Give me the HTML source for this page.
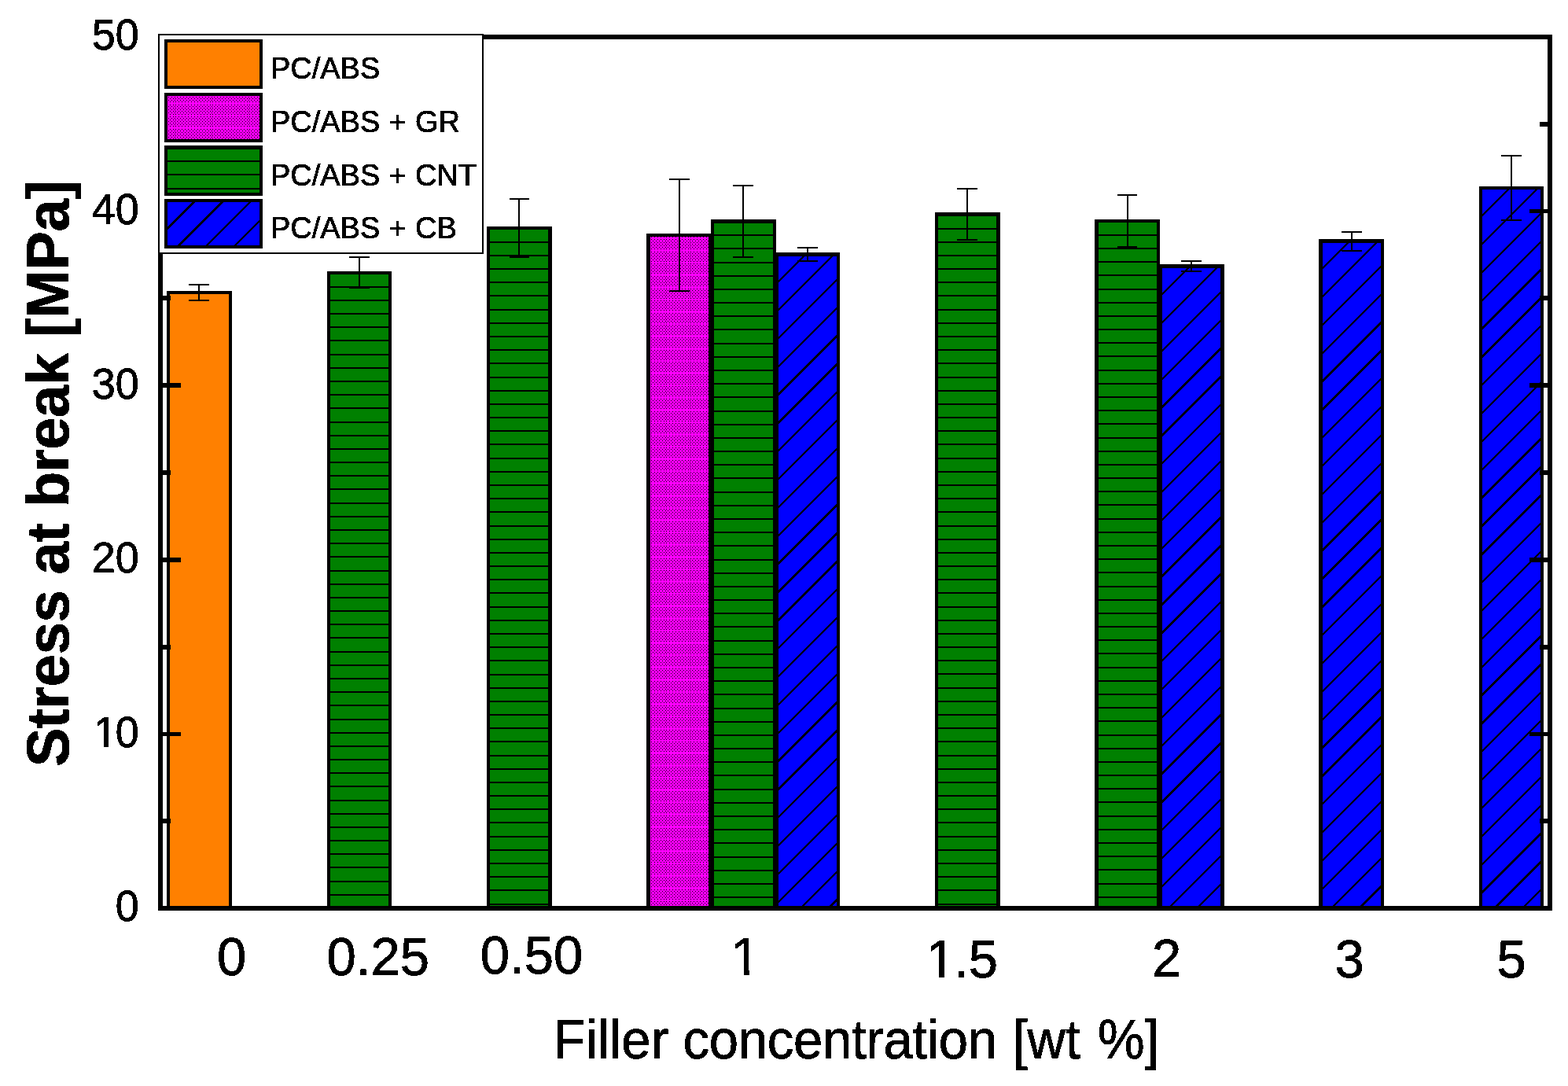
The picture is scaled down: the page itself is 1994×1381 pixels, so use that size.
<!DOCTYPE html>
<html lang="en"><head><meta charset="utf-8"><title>Stress at break vs filler concentration</title>
<style>html,body{margin:0;padding:0;background:#fff;}body{width:1994px;height:1381px;overflow:hidden;}svg{display:block;}text{font-family:"Liberation Sans",sans-serif;fill:#000;}</style>
</head><body>
<svg width="1994" height="1381" viewBox="0 0 1994 1381" shape-rendering="crispEdges">
<defs>
<filter id="bin" x="-5%" y="-5%" width="110%" height="110%" color-interpolation-filters="sRGB"><feComponentTransfer><feFuncA type="discrete" tableValues="0 1 1"/></feComponentTransfer></filter>
<clipPath id="k54"><path d="M-400 -200H600V60H-29.42V-4.83H-38.61V60H-44.19V-4.83H-400Z"/></clipPath>
<clipPath id="k67"><path d="M-400 -200H600V60H34.68V-5.81H23.17V60H16.45V-5.81H-400Z"/></clipPath>
</defs>
<rect x="0" y="0" width="1994" height="1381" fill="#fff"/>
<rect x="212" y="370" width="83" height="782" fill="#000"/>
<rect x="216" y="374" width="75" height="778" fill="#ff8000"/>
<rect x="416" y="345" width="82" height="807" fill="#000"/>
<rect x="420" y="349" width="74" height="803" fill="#008000"/>
<path d="M420 364h74v2h-74zM420 381h74v2h-74zM420 398h74v2h-74zM420 415h74v2h-74zM420 432h74v2h-74zM420 450h74v2h-74zM420 467h74v2h-74zM420 484h74v2h-74zM420 501h74v2h-74zM420 518h74v2h-74zM420 536h74v2h-74zM420 553h74v2h-74zM420 570h74v2h-74zM420 587h74v2h-74zM420 604h74v2h-74zM420 621h74v2h-74zM420 639h74v2h-74zM420 656h74v2h-74zM420 673h74v2h-74zM420 690h74v2h-74zM420 707h74v2h-74zM420 725h74v2h-74zM420 742h74v2h-74zM420 759h74v2h-74zM420 776h74v2h-74zM420 793h74v2h-74zM420 810h74v2h-74zM420 828h74v2h-74zM420 845h74v2h-74zM420 862h74v2h-74zM420 879h74v2h-74zM420 896h74v2h-74zM420 914h74v2h-74zM420 931h74v2h-74zM420 948h74v2h-74zM420 965h74v2h-74zM420 982h74v2h-74zM420 999h74v2h-74zM420 1017h74v2h-74zM420 1034h74v2h-74zM420 1051h74v2h-74zM420 1068h74v2h-74zM420 1085h74v2h-74zM420 1102h74v2h-74zM420 1120h74v2h-74zM420 1137h74v2h-74z" fill="#000"/>
<rect x="619" y="288" width="83" height="864" fill="#000"/>
<rect x="623" y="292" width="74" height="860" fill="#008000"/>
<path d="M623 307h74v2h-74zM623 324h74v2h-74zM623 341h74v2h-74zM623 358h74v2h-74zM623 375h74v2h-74zM623 393h74v2h-74zM623 410h74v2h-74zM623 427h74v2h-74zM623 444h74v2h-74zM623 461h74v2h-74zM623 479h74v2h-74zM623 496h74v2h-74zM623 513h74v2h-74zM623 530h74v2h-74zM623 547h74v2h-74zM623 564h74v2h-74zM623 582h74v2h-74zM623 599h74v2h-74zM623 616h74v2h-74zM623 633h74v2h-74zM623 650h74v2h-74zM623 668h74v2h-74zM623 685h74v2h-74zM623 702h74v2h-74zM623 719h74v2h-74zM623 736h74v2h-74zM623 753h74v2h-74zM623 771h74v2h-74zM623 788h74v2h-74zM623 805h74v2h-74zM623 822h74v2h-74zM623 839h74v2h-74zM623 857h74v2h-74zM623 874h74v2h-74zM623 891h74v2h-74zM623 908h74v2h-74zM623 925h74v2h-74zM623 942h74v2h-74zM623 960h74v2h-74zM623 977h74v2h-74zM623 994h74v2h-74zM623 1011h74v2h-74zM623 1028h74v2h-74zM623 1045h74v2h-74zM623 1063h74v2h-74zM623 1080h74v2h-74zM623 1097h74v2h-74zM623 1114h74v2h-74zM623 1131h74v2h-74zM623 1149h74v2h-74z" fill="#000"/>
<rect x="822" y="297" width="83" height="855" fill="#000"/>
<rect x="827" y="301" width="74" height="851" fill="#ff00ff"/>
<defs><path id="mra" d="M828 0h1v1h-1zM832 0h1v1h-1zM836 0h1v1h-1zM840 0h1v1h-1zM844 0h1v1h-1zM847 0h1v1h-1zM851 0h1v1h-1zM855 0h1v1h-1zM859 0h1v1h-1zM863 0h1v1h-1zM867 0h1v1h-1zM871 0h1v1h-1zM875 0h1v1h-1zM878 0h1v1h-1zM882 0h1v1h-1zM886 0h1v1h-1zM890 0h1v1h-1zM894 0h1v1h-1zM898 0h1v1h-1z"/><path id="mrb" d="M830 0h1v1h-1zM834 0h1v1h-1zM838 0h1v1h-1zM842 0h1v1h-1zM846 0h1v1h-1zM849 0h1v1h-1zM853 0h1v1h-1zM857 0h1v1h-1zM861 0h1v1h-1zM865 0h1v1h-1zM869 0h1v1h-1zM873 0h1v1h-1zM877 0h1v1h-1zM880 0h1v1h-1zM884 0h1v1h-1zM888 0h1v1h-1zM892 0h1v1h-1zM896 0h1v1h-1zM900 0h1v1h-1z"/></defs>
<g fill="#000"><use href="#mra" y="301"/><use href="#mra" y="304"/><use href="#mrb" y="306"/><use href="#mra" y="308"/><use href="#mrb" y="310"/><use href="#mra" y="312"/><use href="#mrb" y="314"/><use href="#mra" y="316"/><use href="#mra" y="320"/><use href="#mrb" y="322"/><use href="#mra" y="324"/><use href="#mrb" y="326"/><use href="#mra" y="328"/><use href="#mrb" y="330"/><use href="#mra" y="332"/><use href="#mra" y="335"/><use href="#mrb" y="337"/><use href="#mra" y="339"/><use href="#mrb" y="341"/><use href="#mra" y="343"/><use href="#mrb" y="345"/><use href="#mra" y="347"/><use href="#mra" y="351"/><use href="#mrb" y="353"/><use href="#mra" y="355"/><use href="#mrb" y="357"/><use href="#mra" y="359"/><use href="#mrb" y="361"/><use href="#mra" y="363"/><use href="#mra" y="367"/><use href="#mrb" y="369"/><use href="#mra" y="371"/><use href="#mrb" y="373"/><use href="#mra" y="375"/><use href="#mrb" y="377"/><use href="#mra" y="379"/><use href="#mra" y="382"/><use href="#mrb" y="384"/><use href="#mra" y="386"/><use href="#mrb" y="388"/><use href="#mra" y="390"/><use href="#mrb" y="392"/><use href="#mra" y="394"/><use href="#mra" y="398"/><use href="#mrb" y="400"/><use href="#mra" y="402"/><use href="#mrb" y="404"/><use href="#mra" y="406"/><use href="#mrb" y="408"/><use href="#mra" y="410"/><use href="#mra" y="413"/><use href="#mrb" y="415"/><use href="#mra" y="417"/><use href="#mrb" y="419"/><use href="#mra" y="421"/><use href="#mrb" y="423"/><use href="#mra" y="425"/><use href="#mra" y="429"/><use href="#mrb" y="431"/><use href="#mra" y="433"/><use href="#mrb" y="435"/><use href="#mra" y="437"/><use href="#mrb" y="439"/><use href="#mra" y="441"/><use href="#mra" y="445"/><use href="#mrb" y="447"/><use href="#mra" y="449"/><use href="#mrb" y="451"/><use href="#mra" y="453"/><use href="#mrb" y="455"/><use href="#mra" y="457"/><use href="#mra" y="460"/><use href="#mrb" y="462"/><use href="#mra" y="464"/><use href="#mrb" y="466"/><use href="#mra" y="468"/><use href="#mrb" y="470"/><use href="#mra" y="472"/><use href="#mra" y="476"/><use href="#mrb" y="478"/><use href="#mra" y="480"/><use href="#mrb" y="482"/><use href="#mra" y="484"/><use href="#mrb" y="486"/><use href="#mra" y="488"/><use href="#mra" y="491"/><use href="#mrb" y="493"/><use href="#mra" y="495"/><use href="#mrb" y="497"/><use href="#mra" y="499"/><use href="#mrb" y="501"/><use href="#mra" y="503"/><use href="#mra" y="507"/><use href="#mrb" y="509"/><use href="#mra" y="511"/><use href="#mrb" y="513"/><use href="#mra" y="515"/><use href="#mrb" y="517"/><use href="#mra" y="519"/><use href="#mra" y="523"/><use href="#mrb" y="525"/><use href="#mra" y="527"/><use href="#mrb" y="529"/><use href="#mra" y="531"/><use href="#mrb" y="533"/><use href="#mra" y="535"/><use href="#mra" y="538"/><use href="#mrb" y="540"/><use href="#mra" y="542"/><use href="#mrb" y="544"/><use href="#mra" y="546"/><use href="#mrb" y="548"/><use href="#mra" y="550"/><use href="#mra" y="554"/><use href="#mrb" y="556"/><use href="#mra" y="558"/><use href="#mrb" y="560"/><use href="#mra" y="562"/><use href="#mrb" y="564"/><use href="#mra" y="566"/><use href="#mra" y="569"/><use href="#mrb" y="571"/><use href="#mra" y="573"/><use href="#mrb" y="575"/><use href="#mra" y="577"/><use href="#mrb" y="579"/><use href="#mra" y="581"/><use href="#mra" y="585"/><use href="#mrb" y="587"/><use href="#mra" y="589"/><use href="#mrb" y="591"/><use href="#mra" y="593"/><use href="#mrb" y="595"/><use href="#mra" y="597"/><use href="#mra" y="600"/><use href="#mrb" y="602"/><use href="#mra" y="604"/><use href="#mrb" y="606"/><use href="#mra" y="608"/><use href="#mrb" y="610"/><use href="#mra" y="612"/><use href="#mra" y="616"/><use href="#mrb" y="618"/><use href="#mra" y="620"/><use href="#mrb" y="622"/><use href="#mra" y="624"/><use href="#mrb" y="626"/><use href="#mra" y="628"/><use href="#mra" y="632"/><use href="#mrb" y="634"/><use href="#mra" y="636"/><use href="#mrb" y="638"/><use href="#mra" y="640"/><use href="#mrb" y="642"/><use href="#mra" y="644"/><use href="#mra" y="647"/><use href="#mrb" y="649"/><use href="#mra" y="651"/><use href="#mrb" y="653"/><use href="#mra" y="655"/><use href="#mrb" y="657"/><use href="#mra" y="659"/><use href="#mra" y="663"/><use href="#mrb" y="665"/><use href="#mra" y="667"/><use href="#mrb" y="669"/><use href="#mra" y="671"/><use href="#mrb" y="673"/><use href="#mra" y="675"/><use href="#mra" y="678"/><use href="#mrb" y="680"/><use href="#mra" y="682"/><use href="#mrb" y="684"/><use href="#mra" y="686"/><use href="#mrb" y="688"/><use href="#mra" y="690"/><use href="#mra" y="694"/><use href="#mrb" y="696"/><use href="#mra" y="698"/><use href="#mrb" y="700"/><use href="#mra" y="702"/><use href="#mrb" y="704"/><use href="#mra" y="706"/><use href="#mra" y="710"/><use href="#mrb" y="712"/><use href="#mra" y="714"/><use href="#mrb" y="716"/><use href="#mra" y="718"/><use href="#mrb" y="720"/><use href="#mra" y="722"/><use href="#mra" y="725"/><use href="#mrb" y="727"/><use href="#mra" y="729"/><use href="#mrb" y="731"/><use href="#mra" y="733"/><use href="#mrb" y="735"/><use href="#mra" y="737"/><use href="#mra" y="741"/><use href="#mrb" y="743"/><use href="#mra" y="745"/><use href="#mrb" y="747"/><use href="#mra" y="749"/><use href="#mrb" y="751"/><use href="#mra" y="753"/><use href="#mra" y="756"/><use href="#mrb" y="758"/><use href="#mra" y="760"/><use href="#mrb" y="762"/><use href="#mra" y="764"/><use href="#mrb" y="766"/><use href="#mra" y="768"/><use href="#mra" y="772"/><use href="#mrb" y="774"/><use href="#mra" y="776"/><use href="#mrb" y="778"/><use href="#mra" y="780"/><use href="#mrb" y="782"/><use href="#mra" y="784"/><use href="#mra" y="788"/><use href="#mrb" y="790"/><use href="#mra" y="792"/><use href="#mrb" y="794"/><use href="#mra" y="796"/><use href="#mrb" y="798"/><use href="#mra" y="800"/><use href="#mra" y="803"/><use href="#mrb" y="805"/><use href="#mra" y="807"/><use href="#mrb" y="809"/><use href="#mra" y="811"/><use href="#mrb" y="813"/><use href="#mra" y="815"/><use href="#mra" y="819"/><use href="#mrb" y="821"/><use href="#mra" y="823"/><use href="#mrb" y="825"/><use href="#mra" y="827"/><use href="#mrb" y="829"/><use href="#mra" y="831"/><use href="#mra" y="834"/><use href="#mrb" y="836"/><use href="#mra" y="838"/><use href="#mrb" y="840"/><use href="#mra" y="842"/><use href="#mrb" y="844"/><use href="#mra" y="846"/><use href="#mra" y="850"/><use href="#mrb" y="852"/><use href="#mra" y="854"/><use href="#mrb" y="856"/><use href="#mra" y="858"/><use href="#mrb" y="860"/><use href="#mra" y="862"/><use href="#mra" y="866"/><use href="#mrb" y="868"/><use href="#mra" y="870"/><use href="#mrb" y="872"/><use href="#mra" y="874"/><use href="#mrb" y="876"/><use href="#mra" y="878"/><use href="#mra" y="881"/><use href="#mrb" y="883"/><use href="#mra" y="885"/><use href="#mrb" y="887"/><use href="#mra" y="889"/><use href="#mrb" y="891"/><use href="#mra" y="893"/><use href="#mra" y="897"/><use href="#mrb" y="899"/><use href="#mra" y="901"/><use href="#mrb" y="903"/><use href="#mra" y="905"/><use href="#mrb" y="907"/><use href="#mra" y="909"/><use href="#mra" y="912"/><use href="#mrb" y="914"/><use href="#mra" y="916"/><use href="#mrb" y="918"/><use href="#mra" y="920"/><use href="#mrb" y="922"/><use href="#mra" y="924"/><use href="#mra" y="928"/><use href="#mrb" y="930"/><use href="#mra" y="932"/><use href="#mrb" y="934"/><use href="#mra" y="936"/><use href="#mrb" y="938"/><use href="#mra" y="940"/><use href="#mra" y="943"/><use href="#mrb" y="945"/><use href="#mra" y="947"/><use href="#mrb" y="949"/><use href="#mra" y="951"/><use href="#mrb" y="953"/><use href="#mra" y="955"/><use href="#mra" y="959"/><use href="#mrb" y="961"/><use href="#mra" y="963"/><use href="#mrb" y="965"/><use href="#mra" y="967"/><use href="#mrb" y="969"/><use href="#mra" y="971"/><use href="#mra" y="975"/><use href="#mrb" y="977"/><use href="#mra" y="979"/><use href="#mrb" y="981"/><use href="#mra" y="983"/><use href="#mrb" y="985"/><use href="#mra" y="987"/><use href="#mra" y="990"/><use href="#mrb" y="992"/><use href="#mra" y="994"/><use href="#mrb" y="996"/><use href="#mra" y="998"/><use href="#mrb" y="1000"/><use href="#mra" y="1002"/><use href="#mra" y="1006"/><use href="#mrb" y="1008"/><use href="#mra" y="1010"/><use href="#mrb" y="1012"/><use href="#mra" y="1014"/><use href="#mrb" y="1016"/><use href="#mra" y="1018"/><use href="#mra" y="1021"/><use href="#mrb" y="1023"/><use href="#mra" y="1025"/><use href="#mrb" y="1027"/><use href="#mra" y="1029"/><use href="#mrb" y="1031"/><use href="#mra" y="1033"/><use href="#mra" y="1037"/><use href="#mrb" y="1039"/><use href="#mra" y="1041"/><use href="#mrb" y="1043"/><use href="#mra" y="1045"/><use href="#mrb" y="1047"/><use href="#mra" y="1049"/><use href="#mra" y="1053"/><use href="#mrb" y="1055"/><use href="#mra" y="1057"/><use href="#mrb" y="1059"/><use href="#mra" y="1061"/><use href="#mrb" y="1063"/><use href="#mra" y="1065"/><use href="#mra" y="1068"/><use href="#mrb" y="1070"/><use href="#mra" y="1072"/><use href="#mrb" y="1074"/><use href="#mra" y="1076"/><use href="#mrb" y="1078"/><use href="#mra" y="1080"/><use href="#mra" y="1084"/><use href="#mrb" y="1086"/><use href="#mra" y="1088"/><use href="#mrb" y="1090"/><use href="#mra" y="1092"/><use href="#mrb" y="1094"/><use href="#mra" y="1096"/><use href="#mra" y="1099"/><use href="#mrb" y="1101"/><use href="#mra" y="1103"/><use href="#mrb" y="1105"/><use href="#mra" y="1107"/><use href="#mrb" y="1109"/><use href="#mra" y="1111"/><use href="#mra" y="1115"/><use href="#mrb" y="1117"/><use href="#mra" y="1119"/><use href="#mrb" y="1121"/><use href="#mra" y="1123"/><use href="#mrb" y="1125"/><use href="#mra" y="1127"/><use href="#mra" y="1131"/><use href="#mrb" y="1133"/><use href="#mra" y="1135"/><use href="#mrb" y="1137"/><use href="#mra" y="1139"/><use href="#mrb" y="1141"/><use href="#mra" y="1143"/><use href="#mra" y="1146"/><use href="#mrb" y="1148"/><use href="#mra" y="1150"/></g>
<rect x="904" y="279" width="83" height="873" fill="#000"/>
<rect x="908" y="284" width="75" height="868" fill="#008000"/>
<path d="M908 298h75v2h-75zM908 315h75v2h-75zM908 333h75v2h-75zM908 350h75v2h-75zM908 367h75v2h-75zM908 384h75v2h-75zM908 401h75v2h-75zM908 418h75v2h-75zM908 436h75v2h-75zM908 453h75v2h-75zM908 470h75v2h-75zM908 487h75v2h-75zM908 504h75v2h-75zM908 522h75v2h-75zM908 539h75v2h-75zM908 556h75v2h-75zM908 573h75v2h-75zM908 590h75v2h-75zM908 607h75v2h-75zM908 625h75v2h-75zM908 642h75v2h-75zM908 659h75v2h-75zM908 676h75v2h-75zM908 693h75v2h-75zM908 711h75v2h-75zM908 728h75v2h-75zM908 745h75v2h-75zM908 762h75v2h-75zM908 779h75v2h-75zM908 796h75v2h-75zM908 814h75v2h-75zM908 831h75v2h-75zM908 848h75v2h-75zM908 865h75v2h-75zM908 882h75v2h-75zM908 900h75v2h-75zM908 917h75v2h-75zM908 934h75v2h-75zM908 951h75v2h-75zM908 968h75v2h-75zM908 985h75v2h-75zM908 1003h75v2h-75zM908 1020h75v2h-75zM908 1037h75v2h-75zM908 1054h75v2h-75zM908 1071h75v2h-75zM908 1089h75v2h-75zM908 1106h75v2h-75zM908 1123h75v2h-75zM908 1140h75v2h-75z" fill="#000"/>
<rect x="986" y="321" width="82" height="831" fill="#000"/>
<clipPath id="c1"><rect x="990" y="326" width="74" height="826"/></clipPath>
<rect x="990" y="326" width="74" height="826" fill="#0000ff"/>
<path d="M987.00 289.45L1067.00 209.45M987.00 325.30L1067.00 245.30M987.00 361.15L1067.00 281.15M987.00 397.00L1067.00 317.00M987.00 432.85L1067.00 352.85M987.00 468.70L1067.00 388.70M987.00 504.55L1067.00 424.55M987.00 540.40L1067.00 460.40M987.00 576.25L1067.00 496.25M987.00 612.10L1067.00 532.10M987.00 647.95L1067.00 567.95M987.00 683.80L1067.00 603.80M987.00 719.65L1067.00 639.65M987.00 755.50L1067.00 675.50M987.00 791.35L1067.00 711.35M987.00 827.20L1067.00 747.20M987.00 863.05L1067.00 783.05M987.00 898.90L1067.00 818.90M987.00 934.75L1067.00 854.75M987.00 970.60L1067.00 890.60M987.00 1006.45L1067.00 926.45M987.00 1042.30L1067.00 962.30M987.00 1078.15L1067.00 998.15M987.00 1114.00L1067.00 1034.00M987.00 1149.85L1067.00 1069.85M987.00 1185.70L1067.00 1105.70M987.00 1221.55L1067.00 1141.55M987.00 1257.40L1067.00 1177.40" stroke="#000" stroke-width="2.4" fill="none" clip-path="url(#c1)"/>
<rect x="1189" y="270" width="83" height="882" fill="#000"/>
<rect x="1193" y="275" width="74" height="877" fill="#008000"/>
<path d="M1193 290h74v2h-74zM1193 307h74v2h-74zM1193 324h74v2h-74zM1193 341h74v2h-74zM1193 358h74v2h-74zM1193 375h74v2h-74zM1193 393h74v2h-74zM1193 410h74v2h-74zM1193 427h74v2h-74zM1193 444h74v2h-74zM1193 461h74v2h-74zM1193 479h74v2h-74zM1193 496h74v2h-74zM1193 513h74v2h-74zM1193 530h74v2h-74zM1193 547h74v2h-74zM1193 564h74v2h-74zM1193 582h74v2h-74zM1193 599h74v2h-74zM1193 616h74v2h-74zM1193 633h74v2h-74zM1193 650h74v2h-74zM1193 668h74v2h-74zM1193 685h74v2h-74zM1193 702h74v2h-74zM1193 719h74v2h-74zM1193 736h74v2h-74zM1193 753h74v2h-74zM1193 771h74v2h-74zM1193 788h74v2h-74zM1193 805h74v2h-74zM1193 822h74v2h-74zM1193 839h74v2h-74zM1193 856h74v2h-74zM1193 874h74v2h-74zM1193 891h74v2h-74zM1193 908h74v2h-74zM1193 925h74v2h-74zM1193 942h74v2h-74zM1193 960h74v2h-74zM1193 977h74v2h-74zM1193 994h74v2h-74zM1193 1011h74v2h-74zM1193 1028h74v2h-74zM1193 1045h74v2h-74zM1193 1063h74v2h-74zM1193 1080h74v2h-74zM1193 1097h74v2h-74zM1193 1114h74v2h-74zM1193 1131h74v2h-74zM1193 1149h74v2h-74z" fill="#000"/>
<rect x="1392" y="279" width="83" height="873" fill="#000"/>
<rect x="1397" y="283" width="74" height="869" fill="#008000"/>
<path d="M1397 298h74v2h-74zM1397 315h74v2h-74zM1397 332h74v2h-74zM1397 349h74v2h-74zM1397 367h74v2h-74zM1397 384h74v2h-74zM1397 401h74v2h-74zM1397 418h74v2h-74zM1397 435h74v2h-74zM1397 452h74v2h-74zM1397 470h74v2h-74zM1397 487h74v2h-74zM1397 504h74v2h-74zM1397 521h74v2h-74zM1397 538h74v2h-74zM1397 556h74v2h-74zM1397 573h74v2h-74zM1397 590h74v2h-74zM1397 607h74v2h-74zM1397 624h74v2h-74zM1397 641h74v2h-74zM1397 659h74v2h-74zM1397 676h74v2h-74zM1397 693h74v2h-74zM1397 710h74v2h-74zM1397 727h74v2h-74zM1397 745h74v2h-74zM1397 762h74v2h-74zM1397 779h74v2h-74zM1397 796h74v2h-74zM1397 813h74v2h-74zM1397 830h74v2h-74zM1397 848h74v2h-74zM1397 865h74v2h-74zM1397 882h74v2h-74zM1397 899h74v2h-74zM1397 916h74v2h-74zM1397 934h74v2h-74zM1397 951h74v2h-74zM1397 968h74v2h-74zM1397 985h74v2h-74zM1397 1002h74v2h-74zM1397 1019h74v2h-74zM1397 1037h74v2h-74zM1397 1054h74v2h-74zM1397 1071h74v2h-74zM1397 1088h74v2h-74zM1397 1105h74v2h-74zM1397 1123h74v2h-74zM1397 1140h74v2h-74z" fill="#000"/>
<rect x="1474" y="336" width="83" height="816" fill="#000"/>
<clipPath id="c2"><rect x="1478" y="341" width="74" height="811"/></clipPath>
<rect x="1478" y="341" width="74" height="811" fill="#0000ff"/>
<path d="M1475.00 305.45L1555.00 225.45M1475.00 341.30L1555.00 261.30M1475.00 377.15L1555.00 297.15M1475.00 413.00L1555.00 333.00M1475.00 448.85L1555.00 368.85M1475.00 484.70L1555.00 404.70M1475.00 520.55L1555.00 440.55M1475.00 556.40L1555.00 476.40M1475.00 592.25L1555.00 512.25M1475.00 628.10L1555.00 548.10M1475.00 663.95L1555.00 583.95M1475.00 699.80L1555.00 619.80M1475.00 735.65L1555.00 655.65M1475.00 771.50L1555.00 691.50M1475.00 807.35L1555.00 727.35M1475.00 843.20L1555.00 763.20M1475.00 879.05L1555.00 799.05M1475.00 914.90L1555.00 834.90M1475.00 950.75L1555.00 870.75M1475.00 986.60L1555.00 906.60M1475.00 1022.45L1555.00 942.45M1475.00 1058.30L1555.00 978.30M1475.00 1094.15L1555.00 1014.15M1475.00 1130.00L1555.00 1050.00M1475.00 1165.85L1555.00 1085.85M1475.00 1201.70L1555.00 1121.70M1475.00 1237.55L1555.00 1157.55" stroke="#000" stroke-width="2.4" fill="none" clip-path="url(#c2)"/>
<rect x="1677" y="304" width="83" height="848" fill="#000"/>
<clipPath id="c3"><rect x="1682" y="309" width="74" height="843"/></clipPath>
<rect x="1682" y="309" width="74" height="843" fill="#0000ff"/>
<path d="M1679.00 272.45L1759.00 192.45M1679.00 308.30L1759.00 228.30M1679.00 344.15L1759.00 264.15M1679.00 380.00L1759.00 300.00M1679.00 415.85L1759.00 335.85M1679.00 451.70L1759.00 371.70M1679.00 487.55L1759.00 407.55M1679.00 523.40L1759.00 443.40M1679.00 559.25L1759.00 479.25M1679.00 595.10L1759.00 515.10M1679.00 630.95L1759.00 550.95M1679.00 666.80L1759.00 586.80M1679.00 702.65L1759.00 622.65M1679.00 738.50L1759.00 658.50M1679.00 774.35L1759.00 694.35M1679.00 810.20L1759.00 730.20M1679.00 846.05L1759.00 766.05M1679.00 881.90L1759.00 801.90M1679.00 917.75L1759.00 837.75M1679.00 953.60L1759.00 873.60M1679.00 989.45L1759.00 909.45M1679.00 1025.30L1759.00 945.30M1679.00 1061.15L1759.00 981.15M1679.00 1097.00L1759.00 1017.00M1679.00 1132.85L1759.00 1052.85M1679.00 1168.70L1759.00 1088.70M1679.00 1204.55L1759.00 1124.55M1679.00 1240.40L1759.00 1160.40" stroke="#000" stroke-width="2.4" fill="none" clip-path="url(#c3)"/>
<rect x="1881" y="237" width="82" height="915" fill="#000"/>
<clipPath id="c4"><rect x="1885" y="241" width="74" height="911"/></clipPath>
<rect x="1885" y="241" width="74" height="911" fill="#0000ff"/>
<path d="M1882.00 205.45L1962.00 125.45M1882.00 241.30L1962.00 161.30M1882.00 277.15L1962.00 197.15M1882.00 313.00L1962.00 233.00M1882.00 348.85L1962.00 268.85M1882.00 384.70L1962.00 304.70M1882.00 420.55L1962.00 340.55M1882.00 456.40L1962.00 376.40M1882.00 492.25L1962.00 412.25M1882.00 528.10L1962.00 448.10M1882.00 563.95L1962.00 483.95M1882.00 599.80L1962.00 519.80M1882.00 635.65L1962.00 555.65M1882.00 671.50L1962.00 591.50M1882.00 707.35L1962.00 627.35M1882.00 743.20L1962.00 663.20M1882.00 779.05L1962.00 699.05M1882.00 814.90L1962.00 734.90M1882.00 850.75L1962.00 770.75M1882.00 886.60L1962.00 806.60M1882.00 922.45L1962.00 842.45M1882.00 958.30L1962.00 878.30M1882.00 994.15L1962.00 914.15M1882.00 1030.00L1962.00 950.00M1882.00 1065.85L1962.00 985.85M1882.00 1101.70L1962.00 1021.70M1882.00 1137.55L1962.00 1057.55M1882.00 1173.40L1962.00 1093.40M1882.00 1209.25L1962.00 1129.25M1882.00 1245.10L1962.00 1165.10" stroke="#000" stroke-width="2.4" fill="none" clip-path="url(#c4)"/>
<path d="M240 361h26v2h-26zM240 381h26v2h-26zM252 361h2v22h-2zM444 326h26v2h-26zM444 365h26v2h-26zM456 326h2v41h-2zM648 252h25v2h-25zM648 326h25v2h-25zM659 252h2v76h-2zM851 227h26v2h-26zM851 369h26v2h-26zM863 227h2v144h-2zM932 235h26v2h-26zM932 326h26v2h-26zM944 235h2v93h-2zM1014 314h26v2h-26zM1014 331h26v2h-26zM1026 314h2v19h-2zM1217 239h26v2h-26zM1217 304h26v2h-26zM1229 239h2v67h-2zM1421 247h25v2h-25zM1421 313h25v2h-25zM1433 247h2v68h-2zM1502 331h26v2h-26zM1502 344h26v2h-26zM1514 331h2v15h-2zM1706 294h26v2h-26zM1706 318h26v2h-26zM1718 294h2v26h-2zM1909 197h26v2h-26zM1909 279h26v2h-26zM1921 197h2v84h-2z" fill="#000"/>
<rect x="204" y="47" width="1767" height="1108" fill="none" stroke="#000" stroke-width="6"/>
<path d="M207 1041h10v6h-10zM1958 1041h10v6h-10zM207 931h23v5h-23zM1945 931h23v5h-23zM207 820h10v6h-10zM1958 820h10v6h-10zM207 709h23v6h-23zM1945 709h23v6h-23zM207 598h10v6h-10zM1958 598h10v6h-10zM207 487h23v6h-23zM1945 487h23v6h-23zM207 376h10v6h-10zM1958 376h10v6h-10zM207 266h23v5h-23zM1945 266h23v5h-23zM207 155h10v6h-10zM1958 155h10v6h-10z" fill="#000"/>
<rect x="202" y="44" width="412" height="278" fill="#fff" stroke="#000" stroke-width="2"/>
<rect x="209" y="50" width="125" height="63" fill="#000"/>
<rect x="213" y="54" width="117" height="55" fill="#ff8000"/>
<rect x="209" y="118" width="125" height="63" fill="#000"/>
<rect x="213" y="122" width="117" height="55" fill="#ff00ff"/>
<defs><path id="lra" d="M214 0h1v1h-1zM218 0h1v1h-1zM222 0h1v1h-1zM225 0h1v1h-1zM229 0h1v1h-1zM233 0h1v1h-1zM237 0h1v1h-1zM241 0h1v1h-1zM245 0h1v1h-1zM249 0h1v1h-1zM253 0h1v1h-1zM257 0h1v1h-1zM261 0h1v1h-1zM265 0h1v1h-1zM269 0h1v1h-1zM272 0h1v1h-1zM276 0h1v1h-1zM280 0h1v1h-1zM284 0h1v1h-1zM288 0h1v1h-1zM292 0h1v1h-1zM296 0h1v1h-1zM300 0h1v1h-1zM304 0h1v1h-1zM308 0h1v1h-1zM312 0h1v1h-1zM316 0h1v1h-1zM319 0h1v1h-1zM323 0h1v1h-1zM327 0h1v1h-1z"/><path id="lrb" d="M216 0h1v1h-1zM220 0h1v1h-1zM223 0h1v1h-1zM227 0h1v1h-1zM231 0h1v1h-1zM235 0h1v1h-1zM239 0h1v1h-1zM243 0h1v1h-1zM247 0h1v1h-1zM251 0h1v1h-1zM255 0h1v1h-1zM259 0h1v1h-1zM263 0h1v1h-1zM267 0h1v1h-1zM270 0h1v1h-1zM274 0h1v1h-1zM278 0h1v1h-1zM282 0h1v1h-1zM286 0h1v1h-1zM290 0h1v1h-1zM294 0h1v1h-1zM298 0h1v1h-1zM302 0h1v1h-1zM306 0h1v1h-1zM310 0h1v1h-1zM314 0h1v1h-1zM317 0h1v1h-1zM321 0h1v1h-1zM325 0h1v1h-1zM329 0h1v1h-1z"/></defs>
<g fill="#000"><use href="#lra" y="123"/><use href="#lrb" y="125"/><use href="#lra" y="127"/><use href="#lrb" y="129"/><use href="#lrb" y="133"/><use href="#lra" y="135"/><use href="#lrb" y="137"/><use href="#lra" y="139"/><use href="#lrb" y="141"/><use href="#lra" y="143"/><use href="#lrb" y="145"/><use href="#lrb" y="148"/><use href="#lra" y="150"/><use href="#lrb" y="152"/><use href="#lra" y="154"/><use href="#lrb" y="156"/><use href="#lra" y="158"/><use href="#lrb" y="160"/><use href="#lrb" y="164"/><use href="#lra" y="166"/><use href="#lrb" y="168"/><use href="#lra" y="170"/><use href="#lrb" y="172"/><use href="#lra" y="174"/><use href="#lrb" y="176"/></g>
<rect x="209" y="185" width="125" height="64" fill="#000"/>
<rect x="213" y="190" width="117" height="55" fill="#008000"/>
<path d="M213 204h117v2h-117zM213 221h117v2h-117zM213 239h117v2h-117z" fill="#000"/>
<rect x="209" y="253" width="125" height="63" fill="#000"/>
<clipPath id="cl"><rect x="213" y="257" width="117" height="55"/></clipPath>
<rect x="213" y="257" width="117" height="55" fill="#0000ff"/>
<path d="M210.00 257.20L333.00 134.20M210.00 293.20L333.00 170.20M210.00 329.30L333.00 206.30" stroke="#000" stroke-width="2.8" fill="none" clip-path="url(#cl)"/>
<path d="M210.00 365.30L333.00 242.30M210.00 401.30L333.00 278.30M210.00 437.00L333.00 314.00" stroke="#000" stroke-width="2.1" fill="none" clip-path="url(#cl)"/>
<g shape-rendering="auto" filter="url(#bin)" stroke="#000" stroke-width="0.5" stroke-linejoin="round">
<text x="343.9" y="99.6" font-size="38" word-spacing="0.7">PC/ABS</text>
<text x="343.9" y="167.8" font-size="38" word-spacing="0.7">PC/ABS + GR</text>
<text x="343.9" y="235.8" font-size="38" word-spacing="0.7">PC/ABS + CNT</text>
<text x="343.9" y="302.8" font-size="38" word-spacing="0.7">PC/ABS + CB</text>
<text transform="translate(176.7 1171.3) scale(1 1.02)" font-size="54" text-anchor="end">0</text>
<text transform="translate(176.7 949.7) scale(1 1.02)" font-size="54" clip-path="url(#k54)"><tspan x="-57.36">1</tspan><tspan x="-30.03">0</tspan></text>
<text transform="translate(176.7 728.1) scale(1 1.02)" font-size="54" text-anchor="end">20</text>
<text transform="translate(176.7 506.5) scale(1 1.02)" font-size="54" text-anchor="end">30</text>
<text transform="translate(176.7 284.9) scale(1 1.02)" font-size="54" text-anchor="end">40</text>
<text transform="translate(176.7 63.3) scale(1 1.02)" font-size="54" text-anchor="end">50</text>
<text transform="translate(276.0 1239.9) scale(1 1.02)" font-size="67">0</text>
<text transform="translate(415.6 1240.2) scale(1 1.02)" font-size="67">0.25</text>
<text transform="translate(610.8 1237.8) scale(1 1.02)" font-size="67">0.50</text>
<text transform="translate(929.3 1240.2) scale(1 1.02)" font-size="67" clip-path="url(#k67)"><tspan x="0">1</tspan><tspan x="34.96"></tspan></text>
<text transform="translate(1178.1 1242.6) scale(1 1.02)" font-size="67" clip-path="url(#k67)"><tspan x="0">1</tspan><tspan x="34.96">.5</tspan></text>
<text transform="translate(1465.1 1242.2) scale(1 1.02)" font-size="67">2</text>
<text transform="translate(1697.6 1242.6) scale(1 1.02)" font-size="67">3</text>
<text transform="translate(1903.6 1242.6) scale(1 1.02)" font-size="67">5</text>
<text transform="translate(0 1346) scale(1 1.04)" font-size="67"><tspan x="703.6" letter-spacing="0.3">Filler</tspan> <tspan x="868.4" letter-spacing="-0.22">concentration</tspan> <tspan x="1287.9">[wt</tspan> <tspan x="1396">%]</tspan></text>
<text transform="translate(87.1 975) rotate(-90) scale(1 1.03)" font-size="74" font-weight="bold" letter-spacing="-0.325">Stress at break [MPa]</text>
</g>
</svg>
</body></html>
